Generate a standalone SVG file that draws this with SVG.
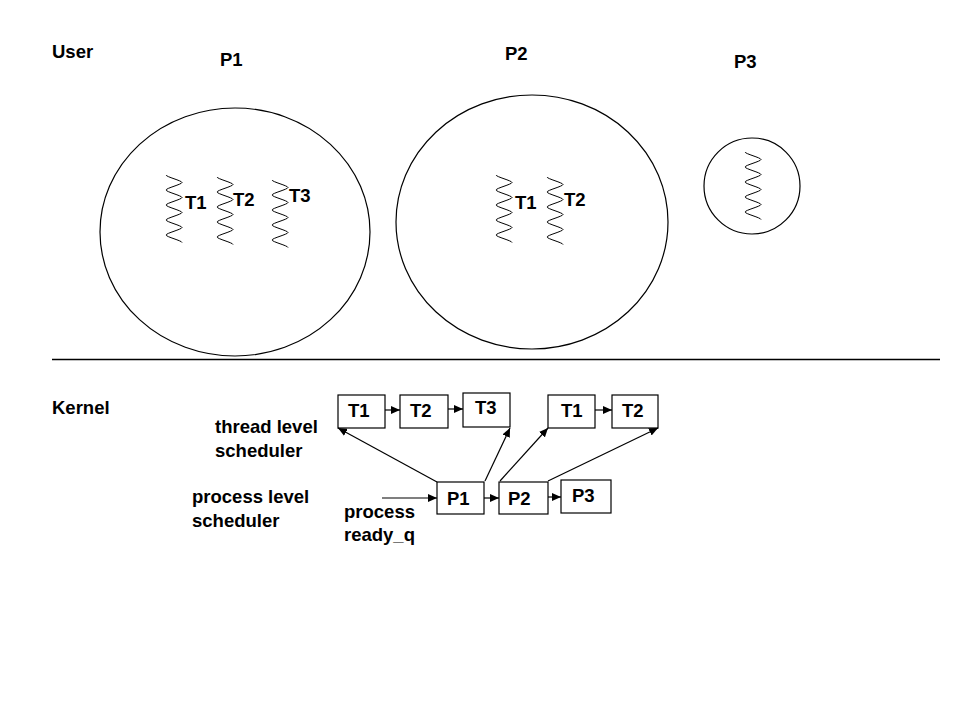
<svg xmlns="http://www.w3.org/2000/svg" xmlns:xlink="http://www.w3.org/1999/xlink" width="960" height="720" viewBox="0 0 960 720">
<style>
text{font-family:"Liberation Sans",Arial,sans-serif;font-weight:bold;font-size:18.5px;fill:#000}
.c{fill:none;stroke:#000;stroke-width:1.2}
.b{fill:#fff;stroke:#000;stroke-width:1.2}
.sq{fill:none;stroke:#000;stroke-width:1}
.a{fill:none;stroke:#000;stroke-width:1.2;marker-end:url(#ah)}
</style>
<defs>
<marker id="ah" markerWidth="10" markerHeight="8" refX="9" refY="4" orient="auto" markerUnits="userSpaceOnUse">
<path d="M0,0 L9,4 L0,8 Z" fill="#000"/>
</marker>
<path id="sq" class="sq" d="M0,0 c0,1.8 16,5.7 16,7.5 s-16,5.7 -16,7.5 s16,5.7 16,7.5 s-16,5.7 -16,7.5 s16,5.7 16,7.5 s-16,5.7 -16,7.5 s16,5.7 16,7.5 s-16,5.7 -16,7.5 s16,5.7 16,7.5"/>
</defs>
<rect width="960" height="720" fill="#fff"/>

<text x="52" y="58">User</text>
<text x="52" y="414">Kernel</text>
<line x1="52" y1="359.5" x2="940" y2="359.5" stroke="#000" stroke-width="1.5"/>

<g id="procP1">
<ellipse class="c" cx="235" cy="232" rx="135" ry="124"/>
<text x="220" y="66">P1</text>
<use xlink:href="#sq" x="166" y="175"/>
<use xlink:href="#sq" x="217" y="177"/>
<use xlink:href="#sq" x="272" y="180"/>
<text x="185" y="209">T1</text>
<text x="233" y="206">T2</text>
<text x="289" y="202">T3</text>
</g>

<g id="procP2">
<ellipse class="c" cx="532" cy="222" rx="136" ry="127"/>
<text x="505" y="60">P2</text>
<use xlink:href="#sq" x="496" y="175"/>
<use xlink:href="#sq" x="547" y="177"/>
<text x="515" y="209">T1</text>
<text x="564" y="206">T2</text>
</g>

<g id="procP3">
<circle class="c" cx="752" cy="186" r="48"/>
<text x="734" y="68">P3</text>
<use xlink:href="#sq" x="745" y="152"/>
</g>

<text x="215" y="433">thread level</text>
<text x="215" y="457">scheduler</text>
<text x="192" y="503">process level</text>
<text x="192" y="527">scheduler</text>
<text x="344" y="518">process</text>
<text x="344" y="541">ready_q</text>

<g id="kT1a"><rect class="b" x="338" y="395" width="47" height="33"/><text x="348" y="417">T1</text></g>
<g id="kT2a"><rect class="b" x="400" y="395" width="48" height="33"/><text x="410" y="417">T2</text></g>
<g id="kT3a"><rect class="b" x="463" y="393" width="47" height="34"/><text x="475" y="414">T3</text></g>
<g id="kT1b"><rect class="b" x="548" y="395" width="47" height="33"/><text x="561" y="417">T1</text></g>
<g id="kT2b"><rect class="b" x="612" y="395" width="46" height="33"/><text x="622" y="417">T2</text></g>
<g id="kP1"><rect class="b" x="437" y="482" width="47" height="32"/><text x="447" y="505">P1</text></g>
<g id="kP2"><rect class="b" x="499" y="482" width="49" height="32"/><text x="508" y="505">P2</text></g>
<g id="kP3"><rect class="b" x="561" y="480" width="50" height="33"/><text x="572" y="502">P3</text></g>

<g id="connectors">
<line class="a" x1="385" y1="410" x2="400" y2="410"/>
<line class="a" x1="448" y1="409" x2="463" y2="409"/>
<line class="a" x1="595" y1="410" x2="612" y2="410"/>
<line class="a" x1="484" y1="498" x2="499" y2="498"/>
<line class="a" x1="548" y1="497" x2="561" y2="497"/>
<line class="a" x1="382" y1="498" x2="437" y2="498"/>
<line class="a" x1="437" y1="482" x2="338" y2="428"/>
<line class="a" x1="485" y1="481" x2="510" y2="428"/>
<line class="a" x1="500" y1="481" x2="548" y2="428"/>
<line class="a" x1="548" y1="481" x2="658" y2="428"/>
</g>
</svg>
